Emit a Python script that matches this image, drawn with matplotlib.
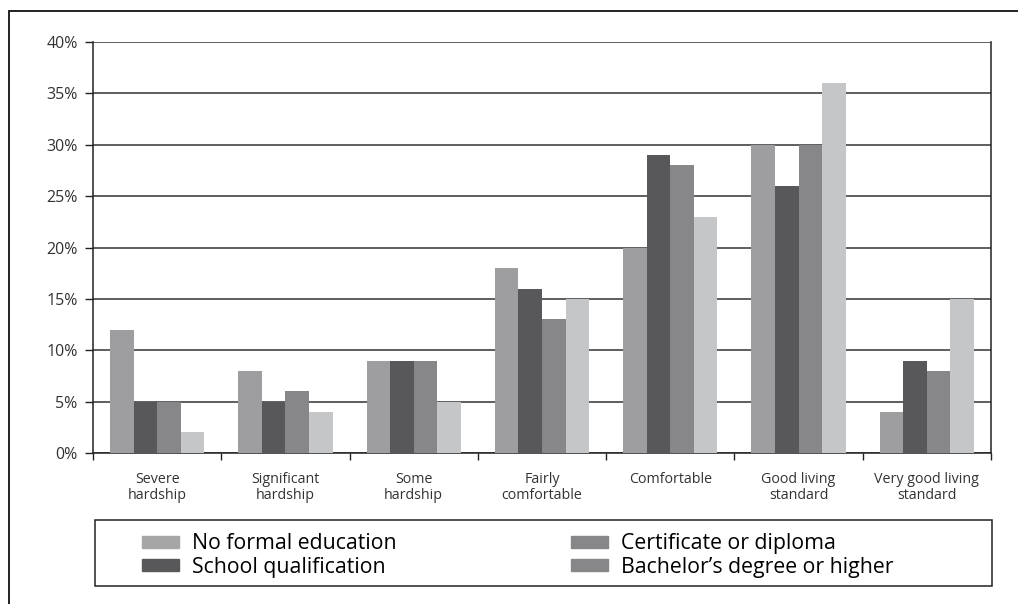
import numpy as np
import matplotlib
matplotlib.use('Agg')
import matplotlib.pyplot as plt
from matplotlib.patches import Patch, Rectangle
from matplotlib.ticker import PercentFormatter

plt.rcParams['font.family'] = ['Open Sans', 'DejaVu Sans']

categories = ['Severe\nhardship', 'Significant\nhardship', 'Some\nhardship',
              'Fairly\ncomfortable', 'Comfortable', 'Good living\nstandard',
              'Very good living\nstandard']
series_names = ['No formal education', 'School qualification',
                'Certificate or diploma', "Bachelor\u2019s degree or higher"]
no_formal = [12, 8, 9, 18, 20, 30, 4]
school = [5, 5, 9, 16, 29, 26, 9]
certificate = [5, 6, 9, 13, 28, 30, 8]
bachelor = [2, 4, 5, 15, 23, 36, 15]
yticks = [0, 5, 10, 15, 20, 25, 30, 35, 40]

bar_colors = ['#9e9ea0', '#58585a', '#87878a', '#c5c6c8']
# legend swatches as printed in the source (last one is mid grey there)
legend_colors = ['#a6a6a6', '#58585a', '#87878a', '#87878a']

W, H = 1018, 604
fig = plt.figure(figsize=(W / 100, H / 100), dpi=100)
ax = fig.add_axes([93 / W, 1 - 453 / H, (991 - 93) / W, (453 - 42) / H])

x = np.arange(len(categories))
bw = 0.184
all_vals = [no_formal, school, certificate, bachelor]
for i, vals in enumerate(all_vals):
    ax.bar(x + (i - 1.5) * bw, vals, width=bw, color=bar_colors[i],
           zorder=3, linewidth=0)

ax.set_xlim(-0.5, len(categories) - 0.5)
ax.set_ylim(0, 40)
ax.set_yticks(yticks)
ax.yaxis.set_major_formatter(PercentFormatter(decimals=0))
ax.grid(axis='y', color='#333333', linewidth=1.1, zorder=0)
ax.set_xticks(x)
ax.set_xticklabels(categories, fontsize=10.3, color='#333333', linespacing=1.05)
ax.set_xticks(np.arange(len(categories) + 1) - 0.5, minor=True)
ax.tick_params(axis='x', which='major', length=0, pad=14)
ax.tick_params(axis='x', which='minor', length=5, width=1, color='#222222')
ax.tick_params(axis='y', length=6, width=1, color='#222222',
               labelsize=11.5, labelcolor='#333333', pad=5)
for s in ['left', 'bottom', 'right']:
    ax.spines[s].set_color('#222222')
    ax.spines[s].set_linewidth(1.1)
ax.spines['top'].set_visible(False)

# legend box
fig.patches.append(Rectangle((95 / W, 1 - 586 / H), (992 - 95) / W, (586 - 520) / H,
                             transform=fig.transFigure, fill=False,
                             edgecolor='#222222', linewidth=1.1))
handles = [Patch(color=c) for c in legend_colors]
fig.legend(handles, series_names,
           ncol=2, loc='upper left', bbox_to_anchor=(140 / W, 1 - 531 / H),
           frameon=False, fontsize=15.3, handlelength=1.75, handleheight=0.5,
           handletextpad=0.6, columnspacing=8.2, labelspacing=0.12,
           borderaxespad=0, borderpad=0.1)

# outer border of the figure (left and top only visible)
fig.patches.append(Rectangle((9 / W, -0.1), 1.2, 1.1 - 11 / H,
                             transform=fig.transFigure, fill=False,
                             edgecolor='#111111', linewidth=1.3))

fig.savefig('out.png', dpi=100)
